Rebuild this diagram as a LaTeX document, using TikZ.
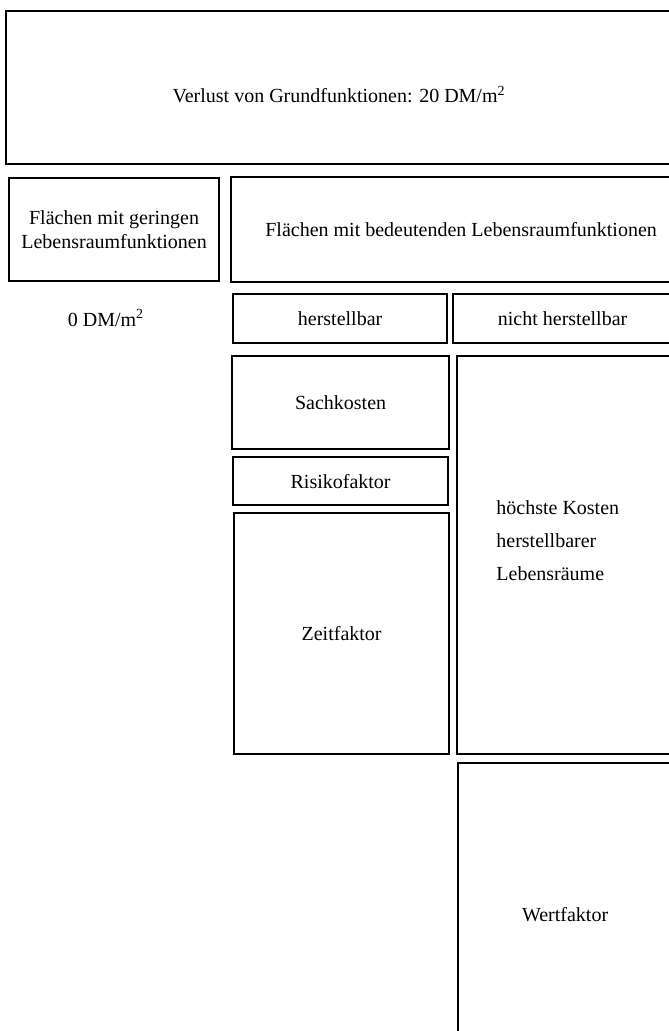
\documentclass[tikz,border=0pt]{standalone}
\usepackage{fontspec}
\setmainfont{Liberation Serif}

\begin{document}
\begin{tikzpicture}[x=0.5pt,y=-0.5pt,every node/.style={font=\fontsize{10}{12}\selectfont},box/.style={draw,line width=1.1pt,anchor=north west,inner sep=0pt,align=center}]
      \useasboundingbox (0,0) rectangle (668,1031);
      \node[box,minimum width=333pt,minimum height=76.5pt] (verlust) at (5,10) {\raisebox{-7.5pt}[0pt][0pt]{Verlust von Grundfunktionen: 20 DM/m\textsuperscript{2}}};

      \node[box,minimum width=105pt,minimum height=51.5pt] (gering) at (8,177) {Flächen mit geringen\\Lebensraumfunktionen};
      \node[box,minimum width=230pt,minimum height=52.5pt] (bedeutend) at (230,176) {Flächen mit bedeutenden Lebensraumfunktionen};

      \node (null) at (106,318) {0 DM/m\textsuperscript{2}};
      \node[box,minimum width=107pt,minimum height=24.5pt] (herstellbar) at (232,293) {herstellbar};
      \node[box,minimum width=109.5pt,minimum height=24.5pt] (nicht) at (452,293) {nicht herstellbar};

      \node[box,minimum width=108.5pt,minimum height=46.5pt] (sachkosten) at (231,355) {Sachkosten};
      \node[box,minimum width=107.5pt,minimum height=24pt] (risiko) at (232,456) {Risikofaktor};
      \node[box,minimum width=107.5pt,minimum height=120.5pt] (zeit) at (233,512) {Zeitfaktor};

      \node[box,minimum width=107.5pt,minimum height=199pt] (hoechst) at (456,355) {};
      \node[anchor=west,align=left,font=\fontsize{10}{16.5}\selectfont,inner sep=0pt] (hoechsttext) at (496,541) {höchste Kosten\\herstellbarer\\Lebensräume};
      \node[box,minimum width=107pt,minimum height=151pt] (wert) at (457,762) {Wertfaktor};
    \end{tikzpicture}
\end{document}
